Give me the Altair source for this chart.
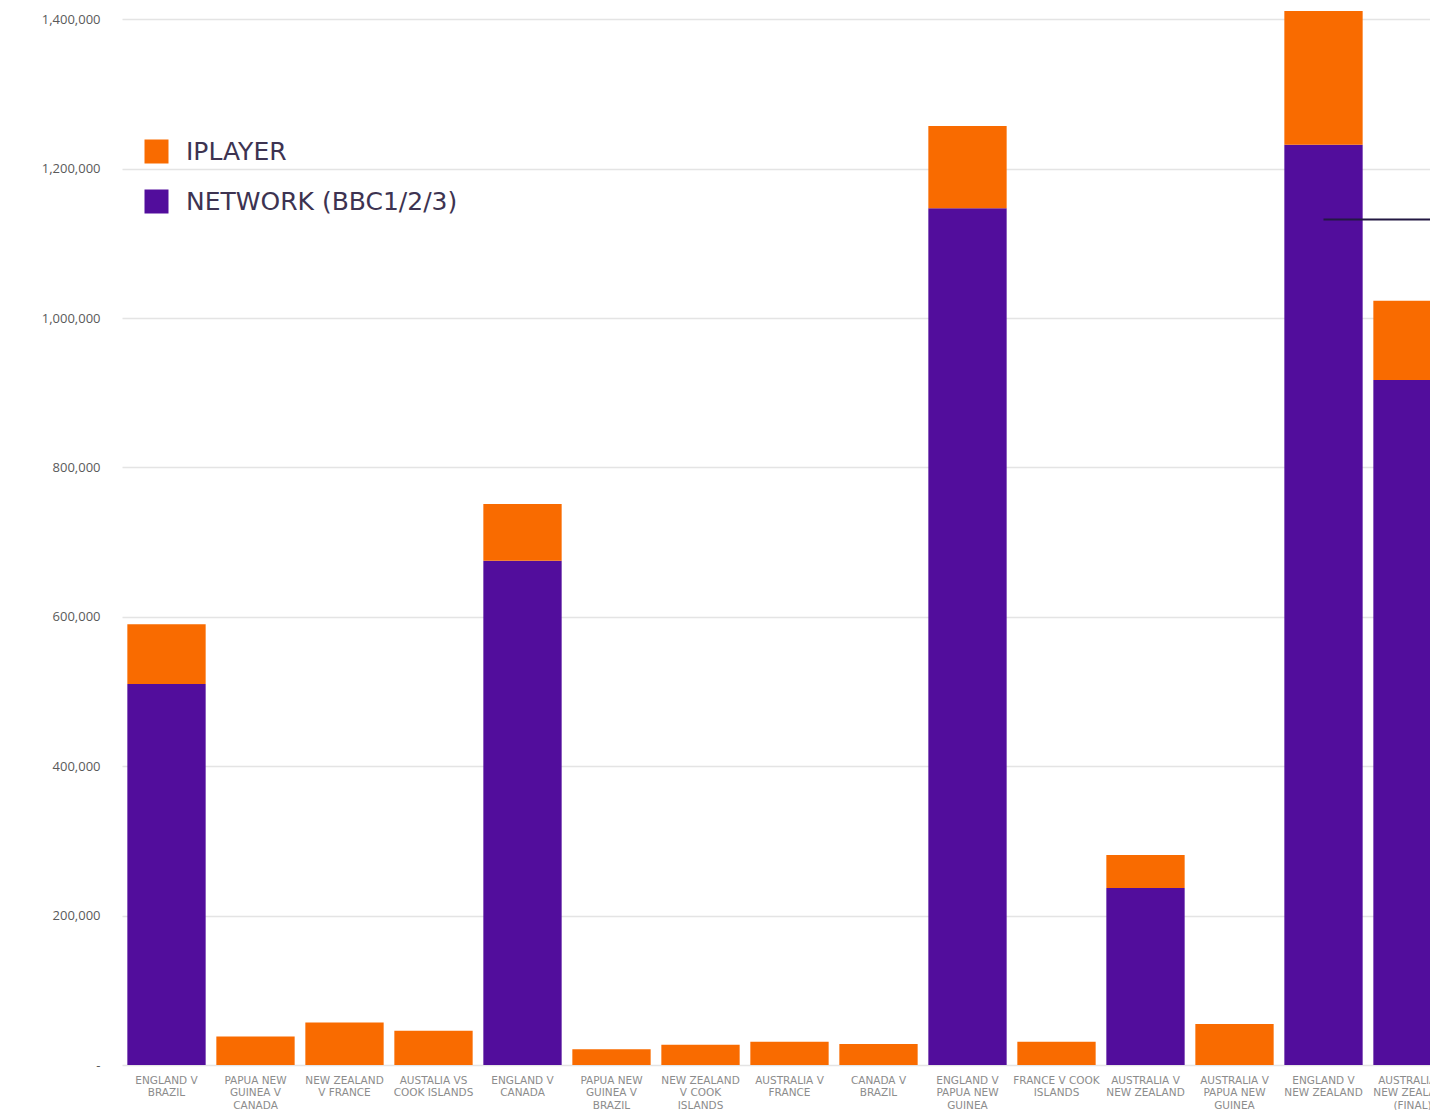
import altair as alt
import pandas as pd

matches = [
    "ENGLAND V|BRAZIL",
    "PAPUA NEW|GUINEA V|CANADA",
    "NEW ZEALAND|V FRANCE",
    "AUSTALIA VS|COOK ISLANDS",
    "ENGLAND V|CANADA",
    "PAPUA NEW|GUINEA V|BRAZIL",
    "NEW ZEALAND|V COOK|ISLANDS",
    "AUSTRALIA V|FRANCE",
    "CANADA V|BRAZIL",
    "ENGLAND V|PAPUA NEW|GUINEA",
    "FRANCE V COOK|ISLANDS",
    "AUSTRALIA V|NEW ZEALAND",
    "AUSTRALIA V|PAPUA NEW|GUINEA",
    "ENGLAND V|NEW ZEALAND",
    "AUSTRALIA V|NEW ZEALAND|(FINAL)",
]
network = [510000, 0, 0, 0, 675000, 0, 0, 0, 0, 1147000, 0, 237000, 0, 1232000, 917000]
iplayer = [80000, 38000, 57000, 46000, 76000, 21000, 27000, 31000, 28000, 110000, 31000, 44000, 55000, 179000, 106000]

series = ["IPLAYER", "NETWORK (BBC1/2/3)"]
series_colors = ["#f96b00", "#520d9c"]
stack_rank = {"NETWORK (BBC1/2/3)": 0, "IPLAYER": 1}
y_ticks = [0, 200000, 400000, 600000, 800000, 1000000, 1200000, 1400000]
annotation_value = [1132000]

rows = []
for m, n, i in zip(matches, network, iplayer):
    rows.append({"match": m, "series": "NETWORK (BBC1/2/3)", "viewers": n, "rank": stack_rank["NETWORK (BBC1/2/3)"]})
    rows.append({"match": m, "series": "IPLAYER", "viewers": i, "rank": stack_rank["IPLAYER"]})
df = pd.DataFrame(rows)

x_scale = alt.Scale(domain=matches, range=[0, 1335], paddingInner=0.12, paddingOuter=0.06)
y_scale = alt.Scale(domain=[0, 1415000], nice=False, zero=True)

bars = alt.Chart(df).mark_bar(clip=True).encode(
    x=alt.X("match:N", sort=matches, scale=x_scale,
            axis=alt.Axis(title=None, labelAngle=0, domain=False, ticks=False,
                          labelExpr="split(datum.label, '|')",
                          labelFont="DejaVu Sans", labelFontSize=10.5, labelColor="#8c8c8c",
                          labelLineHeight=12.5, labelPadding=10, labelOverlap=False,
                          labelBound=False, labelLimit=0, labelBaseline="top")),
    y=alt.Y("viewers:Q", stack="zero", scale=y_scale,
            axis=alt.Axis(title=None, values=y_ticks, domain=False, ticks=False,
                          labelExpr="datum.value == 0 ? '-' : format(datum.value, ',')",
                          labelFont="Open Sans", labelFontSize=13, labelColor="#5a5a5a",
                          labelPadding=22, grid=True, gridColor="#e4e4e4", gridWidth=1.5)),
    color=alt.Color("series:N", scale=alt.Scale(domain=series, range=series_colors),
                    legend=alt.Legend(title=None, orient="none", legendX=22, legendY=131,
                                      symbolType="square", symbolSize=576, symbolStrokeWidth=0,
                                      labelFont="DejaVu Sans", labelFontSize=25, labelLimit=0,
                                      labelColor="#3d3351", labelOffset=17, rowPadding=24)),
    order=alt.Order("rank:Q", sort="ascending"),
)

annot = alt.Chart(pd.DataFrame({"v": annotation_value})).mark_rule(
    color="#231942", strokeWidth=2, clip=True
).encode(
    x=alt.X(datum=matches[13], bandPosition=0.5, scale=x_scale),
    x2=alt.X2(datum=matches[14], bandPosition=1.0),
    y=alt.Y("v:Q", scale=y_scale),
)

chart = alt.layer(bars, annot).properties(
    width=1308, height=1057,
    autosize=alt.AutoSizeParams(type="none"),
    padding={"left": 114, "top": 0, "right": 0, "bottom": 50},
    background="white",
).configure_view(stroke=None)

chart.save("out.html", embed_options={"renderer": "svg", "actions": False})
